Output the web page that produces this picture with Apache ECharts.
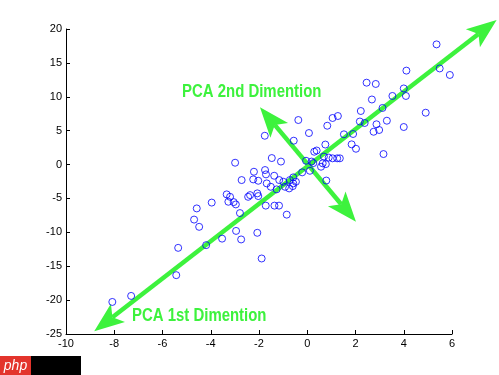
<!DOCTYPE html>
<html><head><meta charset="utf-8">
<script src="https://cdn.jsdelivr.net/npm/echarts@6/dist/echarts.min.js"></script>
<style>html,body{margin:0;padding:0;background:#fff}#c{width:499px;height:375px}</style>
</head><body><div id="c"></div>
<script>
// axis ranges / ticks
const xRange = [-10, 6], xStep = 2;
const yRange = [-25, 20], yStep = 5;

// scatter sample points [x, y]
const samplesX = [5.36,5.49,5.91,4.11,2.46,2.84,4.00,3.53,4.09,2.68,3.12,2.22,4.91,1.05,1.27,0.83,2.18,2.38,3.30,2.87,
  4.00,2.75,2.98,1.52,1.90,1.84,2.02,3.16,1.05,1.24,1.35,-0.37,0.07,-1.76,-0.56,0.75,0.29,0.39,-1.47,-1.09,
  -0.05,0.18,0.69,0.89,0.64,0.25,0.57,0.77,0.11,-0.21,-2.21,-1.75,-1.71,-1.37,-0.58,0.79,-2.24,-2.03,-1.68,-1.16,
  -0.99,-0.72,-0.58,-0.47,-0.92,-0.75,-0.60,-1.51,-1.27,-2.37,-2.07,-2.03,-1.72,-1.36,-1.17,-0.85,-2.07,-1.89,-2.99,-2.72,
  -3.34,-3.20,-2.45,-4.58,-3.96,-3.27,-3.05,-2.96,-2.79,-4.69,-4.48,-2.95,-3.53,-2.74,-4.19,-5.35,-5.43,-7.30,-8.08];
const samplesY = [17.73,14.18,13.22,13.86,12.08,11.89,11.23,10.12,10.12,9.60,8.35,7.90,7.65,6.87,7.16,5.73,6.35,6.13,6.47,5.94,
  5.54,4.84,5.10,4.46,4.51,2.98,2.33,1.55,0.92,0.92,0.92,6.57,4.65,4.25,3.52,2.95,1.89,2.07,0.96,0.44,
  0.56,0.44,1.18,1.03,0.18,0.22,-0.32,0.07,-0.92,-1.15,-1.06,-0.81,-1.45,-1.65,-1.89,-2.36,-2.19,-2.39,-2.78,-2.29,
  -2.54,-2.29,-2.78,-2.54,-3.28,-3.52,-3.18,-3.28,-3.66,-4.51,-4.25,-4.65,-6.06,-6.06,-6.06,-7.39,-10.07,-13.86,0.27,-2.29,
  -4.40,-4.76,-4.76,-6.47,-5.61,-5.49,-5.54,-5.88,-7.16,-8.12,-9.19,-9.79,-10.93,-11.05,-11.89,-12.29,-16.32,-19.38,-20.27];

// principal direction arrows [x1, y1, x2, y2] (double-headed)
const pca1 = [-8.83, -24.6, 7.85, 21.34];
const pca2 = [-1.96, 8.45, 2.02, -8.45];
const labelTexts = ['PCA 2nd Dimention', 'PCA 1st Dimention'];

const GREEN = '#3df23d';
const points = samplesX.map((x, i) => [x, samplesY[i]]);

function arrowItem(params, api) {
  const a = api.coord([api.value(0), api.value(1)]);
  const b = api.coord([api.value(2), api.value(3)]);
  const dx = b[0] - a[0], dy = b[1] - a[1];
  const len = Math.sqrt(dx * dx + dy * dy);
  const ux = dx / len, uy = dy / len, nx = -uy, ny = ux;
  const L = 30, hw = 11.5, notch = 7;
  function head(tip, s) {
    const bx = tip[0] - s * ux * L, by = tip[1] - s * uy * L;
    return [tip, [bx + nx * hw, by + ny * hw],
      [tip[0] - s * ux * (L - notch), tip[1] - s * uy * (L - notch)],
      [bx - nx * hw, by - ny * hw]];
  }
  return {
    type: 'group',
    children: [
      { type: 'line', shape: { x1: a[0] + ux * (L - notch), y1: a[1] + uy * (L - notch),
          x2: b[0] - ux * (L - notch), y2: b[1] - uy * (L - notch) },
        style: { stroke: GREEN, lineWidth: 4.5 } },
      { type: 'polygon', shape: { points: head(b, 1) }, style: { fill: GREEN } },
      { type: 'polygon', shape: { points: head(a, -1) }, style: { fill: GREEN } }
    ]
  };
}

const axisCommon = {
  type: 'value',
  axisLine: { show: true, onZero: false, lineStyle: { color: '#000', width: 1 } },
  axisTick: { show: true, inside: true, length: 4, lineStyle: { color: '#000' } },
  splitLine: { show: false },
  axisLabel: { color: '#000', fontSize: 11, fontFamily: '"Liberation Sans", Arial, sans-serif', margin: 4 }
};

const labelFont = 'bold 18px "Liberation Sans", Arial, sans-serif';

const chart = echarts.init(document.getElementById('c'), null, { renderer: 'canvas' });
chart.setOption({
  animation: false,
  backgroundColor: '#fff',
  grid: { left: 66, right: 47, top: 29, bottom: 41, outerBoundsMode: 'none', containLabel: false },
  xAxis: Object.assign({}, axisCommon, { min: xRange[0], max: xRange[1], interval: xStep }),
  yAxis: Object.assign({}, axisCommon, { min: yRange[0], max: yRange[1], interval: yStep }),
  series: [
    { type: 'custom', coordinateSystem: 'cartesian2d', clip: false, silent: true, z: 2,
      renderItem: arrowItem, data: [pca1, pca2] },
    { type: 'scatter', z: 3, symbol: 'circle', symbolSize: 7, silent: true,
      itemStyle: { color: 'rgba(0,0,0,0)', borderColor: '#0000ff', borderWidth: 1 },
      data: points }
  ],
  graphic: [
    { type: 'text', x: 182, y: 92, scaleX: 0.83, z: 10,
      style: { text: labelTexts[0], fill: GREEN, font: labelFont, textVerticalAlign: 'middle' } },
    { type: 'text', x: 132, y: 316, scaleX: 0.83, z: 10,
      style: { text: labelTexts[1], fill: GREEN, font: labelFont, textVerticalAlign: 'middle' } },
    { type: 'rect', shape: { x: 0, y: 356, width: 31, height: 19 }, style: { fill: '#e3342c' } },
    { type: 'rect', shape: { x: 31, y: 356, width: 50, height: 19 }, style: { fill: '#000' } },
    { type: 'text', x: 15.5, y: 366, style: { text: 'php', fill: '#fff', font: 'italic 14px "Liberation Sans", sans-serif', textAlign: 'center', textVerticalAlign: 'middle' } }
  ]
});
</script></body></html>
